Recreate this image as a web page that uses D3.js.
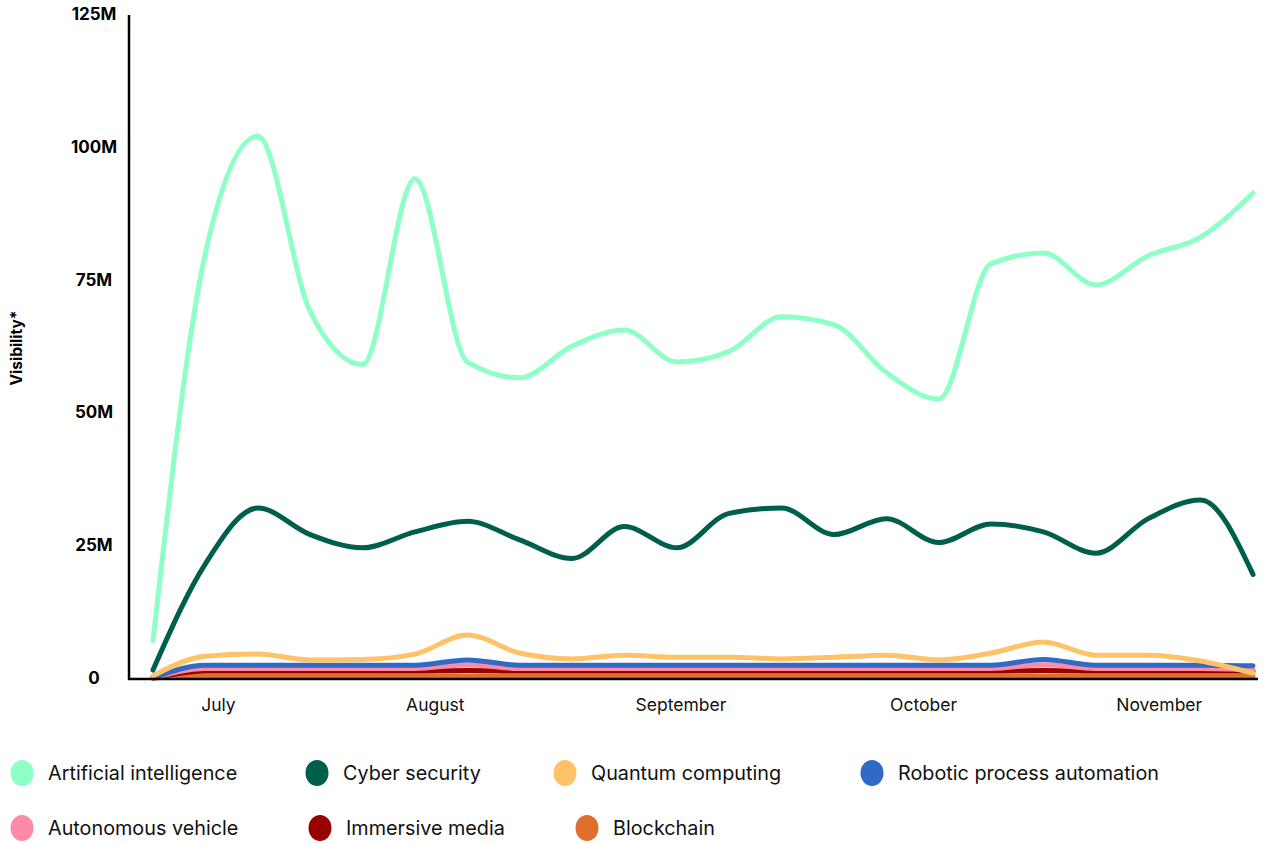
<!DOCTYPE html>
<html>
<head>
<meta charset="utf-8">
<script src="https://cdn.jsdelivr.net/npm/d3@7"></script>
<style>
  html, body { margin: 0; padding: 0; background: #fff; }
  svg { display: block; }
</style>
</head>
<body>
<svg id="chart" width="1266" height="843"></svg>
<script>
// ---- data ----
const weeks = d3.range(22); // weekly observations, index 0..21
const monthLabels = ["July", "August", "September", "October", "November"];
const monthTickAt = [1.24, 5.38, 10.07, 14.7, 19.2]; // position on week index
const yTicks = [0, 25e6, 50e6, 75e6, 100e6, 125e6];
const yTickLabels = ["0", "25M", "50M", "75M", "100M", "125M"];

const seriesNames = ["Artificial intelligence", "Cyber security", "Quantum computing",
  "Robotic process automation", "Autonomous vehicle", "Immersive media", "Blockchain"];
const seriesColors = ["#8effc5", "#005f4b", "#ffc266", "#2f6bc6", "#ff8aa5", "#990000", "#e06f2e"];

const aiValues = [7, 80, 102, 69, 59, 94, 59.5, 56.5, 62.5, 65.5, 59.5, 61.5, 68, 66.5, 57.5, 52.5, 78, 80, 74, 79.5, 83, 91.3];
const cyberValues = [1.5, 21.5, 32, 27, 24.5, 27.5, 29.5, 26, 22.5, 28.5, 24.5, 31, 32, 27, 30, 25.5, 29, 27.5, 23.5, 30, 33.5, 19.5];
const quantumValues = [0.4, 4.1, 4.5, 3.4, 3.5, 4.5, 8.1, 4.7, 3.6, 4.3, 3.9, 3.9, 3.6, 3.9, 4.3, 3.4, 4.7, 6.8, 4.3, 4.3, 3.2, 0.9];
const rpaValues = [0, 2.4, 2.4, 2.4, 2.4, 2.4, 3.4, 2.4, 2.4, 2.4, 2.4, 2.4, 2.4, 2.4, 2.4, 2.4, 2.4, 3.5, 2.4, 2.4, 2.4, 2.3];
const autoValues = [0, 1.8, 1.8, 1.8, 1.8, 1.8, 2.5, 1.8, 1.8, 1.8, 1.8, 1.8, 1.8, 1.8, 1.8, 1.8, 1.8, 2.5, 1.8, 1.8, 1.8, 1.6];
const immersiveValues = [0, 1.3, 1.3, 1.3, 1.3, 1.3, 1.4, 1.3, 1.3, 1.3, 1.3, 1.3, 1.3, 1.3, 1.3, 1.3, 1.3, 1.4, 1.3, 1.3, 1.3, 1.3];
const blockchainValues = [0, 0.4, 0.4, 0.4, 0.4, 0.4, 0.4, 0.4, 0.4, 0.4, 0.4, 0.4, 0.4, 0.4, 0.4, 0.4, 0.4, 0.4, 0.4, 0.4, 0.4, 0.4];

const allValues = [aiValues, cyberValues, quantumValues, rpaValues, autoValues, immersiveValues, blockchainValues];
const series = seriesNames.map((name, i) => ({
  name, color: seriesColors[i],
  values: allValues[i].map((v, j) => ({ i: weeks[j], v: v * 1e6 }))
}));

// ---- drawing ----
const svg = d3.select("#chart");
const FONT = "Inter, 'Noto Sans', sans-serif";

const x = d3.scaleLinear().domain([0, 21]).range([153, 1253]);
const y = d3.scaleLinear().domain([0, 125e6]).range([678, 14]);

// y axis
const yAxis = d3.axisLeft(y).tickValues(yTicks).tickSize(0).tickSizeOuter(0)
  .tickFormat((d, i) => yTickLabels[i]);
const gy = svg.append("g").attr("transform", "translate(129,0)").call(yAxis);
gy.select(".domain").remove();
gy.selectAll("text").attr("x", -35).attr("text-anchor", "middle")
  .style("font-family", FONT).style("font-weight", 700).style("font-size", "17px").attr("fill", "#000");

// x axis labels
const xAxis = d3.axisBottom(x).tickValues(monthTickAt).tickSize(0).tickSizeOuter(0)
  .tickFormat((d, i) => monthLabels[i]);
const gx = svg.append("g").attr("transform", `translate(0,${y(0)})`).call(xAxis);
gx.select(".domain").remove();
gx.selectAll("text").attr("dy", "1.7em")
  .style("font-family", FONT).style("font-size", "17.5px").attr("fill", "#111");

// lines (drawn from last to first so AI ends on top)
const line = d3.line().x(d => x(d.i)).y(d => y(d.v)).curve(d3.curveMonotoneX);
svg.append("g").selectAll("path").data(series.slice().reverse()).join("path")
  .attr("d", d => line(d.values))
  .attr("fill", "none")
  .attr("stroke", d => d.color)
  .attr("stroke-width", 5)
  .attr("stroke-linecap", "round")
  .attr("stroke-linejoin", "round");

// axis lines
svg.append("line").attr("x1", 129).attr("x2", 129).attr("y1", y(125e6) + 1).attr("y2", y(0) + 1.5)
  .attr("stroke", "#000").attr("stroke-width", 2.5);
svg.append("line").attr("x1", 128).attr("x2", 1258).attr("y1", y(0) + 1).attr("y2", y(0) + 1)
  .attr("stroke", "#000").attr("stroke-width", 2.5);

// y axis title
svg.append("text")
  .attr("transform", `translate(22,348) rotate(-90)`)
  .attr("text-anchor", "middle")
  .style("font-family", FONT).style("font-weight", 700).style("font-size", "15.5px")
  .text("Visibility*");

// legend
const legendPos = [[22, 773], [317, 773], [565, 773], [872, 773], [22, 828], [320, 828], [587, 828]];
const lg = svg.append("g").selectAll("g").data(series).join("g")
  .attr("transform", (d, i) => `translate(${legendPos[i][0]},${legendPos[i][1]})`);
lg.append("ellipse").attr("rx", 11.5).attr("ry", 13).attr("fill", d => d.color);
lg.append("text").attr("x", 26).attr("dy", "0.35em")
  .style("font-family", FONT).style("font-size", "19.8px").attr("fill", "#111")
  .text(d => d.name);
</script>
</body>
</html>
